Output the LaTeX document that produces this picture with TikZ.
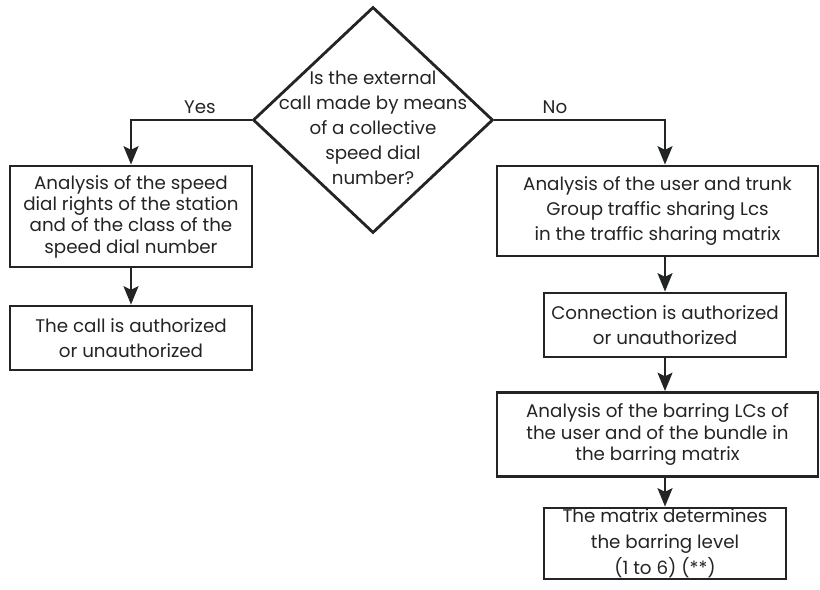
\documentclass[tikz,border=0pt]{standalone}
\usepackage{fontspec}
\setmainfont{Poppins}
\usepackage{tikz}
\usetikzlibrary{arrows.meta, positioning, calc, shapes.geometric}

\definecolor{inkgray}{HTML}{222426}

\begin{document}
\begin{tikzpicture}[>={Stealth[length=13pt,width=10.5pt,inset=2.5pt]},
    line width=2pt, draw=inkgray,
    stepbox/.style={draw=inkgray, line width=2pt, rectangle, inner sep=0pt,
      align=center, text=inkgray, font=\fontsize{13}{17.7}\selectfont},
    flow/.style={->, inkgray, line width=2pt},
    branch/.style={text=inkgray, font=\fontsize{13}{15}\selectfont}]
  \useasboundingbox (0,0) rectangle (20.5,-14.725);

  % Decision
  \node[diamond, draw=inkgray, line width=2pt, inner sep=0pt,
        minimum width=6cm, minimum height=5.65cm] (dia) at (9.325,-3.0) {};
  \node[align=center, text=inkgray, font=\fontsize{13}{17.7}\selectfont]
        (diatext) at (9.325,-3.2)
        {Is the external\\call made by means\\of a collective\\speed dial\\number?};

  % Yes branch
  \node[stepbox, minimum width=6.05cm, minimum height=2.525cm,
        font=\fontsize{13}{15.2}\selectfont] (speed) at (3.275,-5.4125)
        {Analysis of the speed\\dial rights of the station\\and of the class of the\\speed dial number};
  \node[stepbox, minimum width=6.05cm, minimum height=1.6cm] (callok) at (3.275,-8.45)
        {The call is authorized\\or unauthorized};

  % No branch
  \node[stepbox, minimum width=8.025cm, minimum height=2.25cm] (share) at (16.4375,-5.275)
        {Analysis of the user and trunk\\Group traffic sharing Lcs\\in the traffic sharing matrix};
  \node[stepbox, minimum width=6.05cm, minimum height=1.6cm] (connok) at (16.625,-8.125)
        {Connection is authorized\\or unauthorized};
  \node[stepbox, minimum width=8.025cm, minimum height=2.1cm,
        font=\fontsize{13}{15.6}\selectfont] (barring) at (16.4375,-10.8625)
        {Analysis of the barring LCs of\\the user and of the bundle in\\the barring matrix};
  \node[stepbox, minimum width=6.05cm, minimum height=1.775cm,
        font=\fontsize{13}{18.4}\selectfont] (level) at (16.625,-13.5875)
        {The matrix determines\\the barring level\\(1 to 6) (**)};

  % Connectors
  \draw[flow] (dia.west) -| (speed.north);
  \node[branch] (yes) at (5.0,-2.675) {Yes};
  \draw[flow] (dia.east) -| (share.north -| connok.north);
  \node[branch] (no) at (13.875,-2.675) {No};
  \draw[flow] (speed.south) -- (callok.north);
  \draw[flow] (share.south -| connok.north) -- (connok.north);
  \draw[flow] (connok.south) -- (barring.north -| connok.north);
  \draw[flow] (barring.south -| level.north) -- (level.north);
\end{tikzpicture}
\end{document}
